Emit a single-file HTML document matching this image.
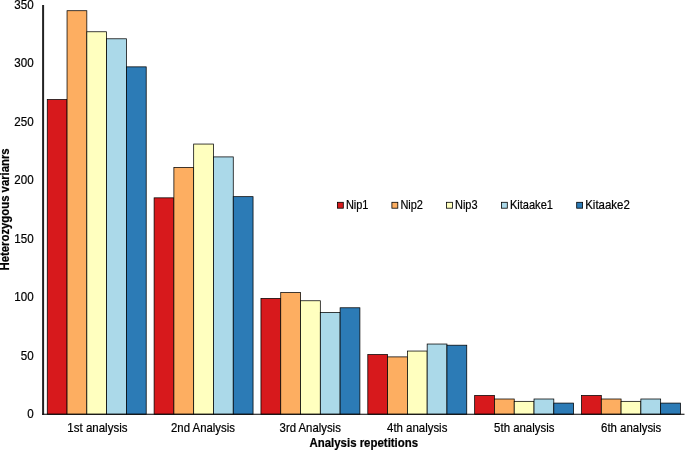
<!DOCTYPE html>
<html><head><meta charset="utf-8"><title>chart</title>
<style>
html,body{margin:0;padding:0;background:#fff;}
body{width:685px;height:450px;overflow:hidden;}
svg{display:block;will-change:transform;opacity:0.999;}
text{font-family:"Liberation Sans",sans-serif;fill:#000;stroke:#000;stroke-width:0.2px;}
</style></head><body>
<svg width="685" height="450" viewBox="0 0 685 450">
<rect width="685" height="450" fill="#fff"/>
<rect x="47.26" y="99.60" width="19.79" height="314.60" fill="#d7191c" stroke="#000" stroke-width="0.75"/>
<rect x="67.04" y="10.72" width="19.79" height="403.48" fill="#fdae61" stroke="#000" stroke-width="0.75"/>
<rect x="86.83" y="31.77" width="19.79" height="382.43" fill="#ffffbf" stroke="#000" stroke-width="0.75"/>
<rect x="106.62" y="38.79" width="19.79" height="375.41" fill="#abd9e9" stroke="#000" stroke-width="0.75"/>
<rect x="126.41" y="66.86" width="19.79" height="347.34" fill="#2c7bb6" stroke="#000" stroke-width="0.75"/>
<rect x="154.11" y="197.84" width="19.79" height="216.36" fill="#d7191c" stroke="#000" stroke-width="0.75"/>
<rect x="173.89" y="167.44" width="19.79" height="246.76" fill="#fdae61" stroke="#000" stroke-width="0.75"/>
<rect x="193.68" y="144.05" width="19.79" height="270.15" fill="#ffffbf" stroke="#000" stroke-width="0.75"/>
<rect x="213.47" y="156.91" width="19.79" height="257.29" fill="#abd9e9" stroke="#000" stroke-width="0.75"/>
<rect x="233.26" y="196.67" width="19.79" height="217.53" fill="#2c7bb6" stroke="#000" stroke-width="0.75"/>
<rect x="260.96" y="298.42" width="19.79" height="115.78" fill="#d7191c" stroke="#000" stroke-width="0.75"/>
<rect x="280.74" y="292.57" width="19.79" height="121.63" fill="#fdae61" stroke="#000" stroke-width="0.75"/>
<rect x="300.53" y="300.76" width="19.79" height="113.44" fill="#ffffbf" stroke="#000" stroke-width="0.75"/>
<rect x="320.32" y="312.45" width="19.79" height="101.75" fill="#abd9e9" stroke="#000" stroke-width="0.75"/>
<rect x="340.11" y="307.78" width="19.79" height="106.42" fill="#2c7bb6" stroke="#000" stroke-width="0.75"/>
<rect x="367.81" y="354.56" width="19.79" height="59.64" fill="#d7191c" stroke="#000" stroke-width="0.75"/>
<rect x="387.59" y="356.89" width="19.79" height="57.31" fill="#fdae61" stroke="#000" stroke-width="0.75"/>
<rect x="407.38" y="351.05" width="19.79" height="63.15" fill="#ffffbf" stroke="#000" stroke-width="0.75"/>
<rect x="427.17" y="344.03" width="19.79" height="70.17" fill="#abd9e9" stroke="#000" stroke-width="0.75"/>
<rect x="446.96" y="345.20" width="19.79" height="69.00" fill="#2c7bb6" stroke="#000" stroke-width="0.75"/>
<rect x="474.66" y="395.49" width="19.79" height="18.71" fill="#d7191c" stroke="#000" stroke-width="0.75"/>
<rect x="494.44" y="399.00" width="19.79" height="15.20" fill="#fdae61" stroke="#000" stroke-width="0.75"/>
<rect x="514.23" y="401.34" width="19.79" height="12.86" fill="#ffffbf" stroke="#000" stroke-width="0.75"/>
<rect x="534.02" y="399.00" width="19.79" height="15.20" fill="#abd9e9" stroke="#000" stroke-width="0.75"/>
<rect x="553.81" y="403.09" width="19.79" height="11.11" fill="#2c7bb6" stroke="#000" stroke-width="0.75"/>
<rect x="581.51" y="395.49" width="19.79" height="18.71" fill="#d7191c" stroke="#000" stroke-width="0.75"/>
<rect x="601.29" y="399.00" width="19.79" height="15.20" fill="#fdae61" stroke="#000" stroke-width="0.75"/>
<rect x="621.08" y="401.34" width="19.79" height="12.86" fill="#ffffbf" stroke="#000" stroke-width="0.75"/>
<rect x="640.87" y="399.00" width="19.79" height="15.20" fill="#abd9e9" stroke="#000" stroke-width="0.75"/>
<rect x="660.66" y="403.09" width="19.79" height="11.11" fill="#2c7bb6" stroke="#000" stroke-width="0.75"/>
<line x1="43.10" y1="5" x2="43.10" y2="414.70" stroke="#222" stroke-width="2.0"/>
<line x1="42.10" y1="414.20" x2="684.5" y2="414.20" stroke="#000" stroke-width="1.1"/>
<text transform="translate(33.60 418.25) scale(1.000 1.060)" font-size="11.60" text-anchor="end">0</text>
<text transform="translate(33.60 359.77) scale(1.000 1.060)" font-size="11.60" text-anchor="end">50</text>
<text transform="translate(33.60 301.30) scale(1.000 1.060)" font-size="11.60" text-anchor="end">100</text>
<text transform="translate(33.60 242.82) scale(1.000 1.060)" font-size="11.60" text-anchor="end">150</text>
<text transform="translate(33.60 184.35) scale(1.000 1.060)" font-size="11.60" text-anchor="end">200</text>
<text transform="translate(33.60 125.87) scale(1.000 1.060)" font-size="11.60" text-anchor="end">250</text>
<text transform="translate(33.60 67.40) scale(1.000 1.060)" font-size="11.60" text-anchor="end">300</text>
<text transform="translate(33.60 8.93) scale(1.000 1.060)" font-size="11.60" text-anchor="end">350</text>
<text transform="translate(97.40 431.80) scale(0.993 1.060)" font-size="11.60" text-anchor="middle">1st analysis</text>
<text transform="translate(203.00 431.80) scale(0.982 1.060)" font-size="11.60" text-anchor="middle">2nd Analysis</text>
<text transform="translate(310.20 431.80) scale(0.981 1.060)" font-size="11.60" text-anchor="middle">3rd Analysis</text>
<text transform="translate(417.20 431.80) scale(0.985 1.060)" font-size="11.60" text-anchor="middle">4th analysis</text>
<text transform="translate(524.25 431.80) scale(0.984 1.060)" font-size="11.60" text-anchor="middle">5th analysis</text>
<text transform="translate(631.20 431.80) scale(0.984 1.060)" font-size="11.60" text-anchor="middle">6th analysis</text>
<text transform="translate(363.80 447.10) scale(1.000 1.060)" font-size="11.45" font-weight="bold" stroke="none" text-anchor="middle">Analysis repetitions</text>
<text transform="translate(9.00 209.40) rotate(-90) scale(0.990 1.060)" font-size="11.45" font-weight="bold" stroke="none" text-anchor="middle">Heterozygous varianrs</text>
<rect x="337.40" y="202.30" width="5.9" height="5.9" fill="#d7191c" stroke="#000" stroke-width="0.8"/>
<text transform="translate(345.90 208.70) scale(0.947 1.060)" font-size="11.60" text-anchor="start">Nip1</text>
<rect x="391.90" y="202.30" width="5.9" height="5.9" fill="#fdae61" stroke="#000" stroke-width="0.8"/>
<text transform="translate(400.40 208.70) scale(0.947 1.060)" font-size="11.60" text-anchor="start">Nip2</text>
<rect x="446.50" y="202.30" width="5.9" height="5.9" fill="#ffffbf" stroke="#000" stroke-width="0.8"/>
<text transform="translate(455.00 208.70) scale(0.947 1.060)" font-size="11.60" text-anchor="start">Nip3</text>
<rect x="501.40" y="202.30" width="5.9" height="5.9" fill="#abd9e9" stroke="#000" stroke-width="0.8"/>
<text transform="translate(509.90 208.70) scale(0.955 1.060)" font-size="11.60" text-anchor="start">Kitaake1</text>
<rect x="576.70" y="202.30" width="5.9" height="5.9" fill="#2c7bb6" stroke="#000" stroke-width="0.8"/>
<text transform="translate(585.20 208.70) scale(0.989 1.060)" font-size="11.60" text-anchor="start">Kitaake2</text>
</svg></body></html>
